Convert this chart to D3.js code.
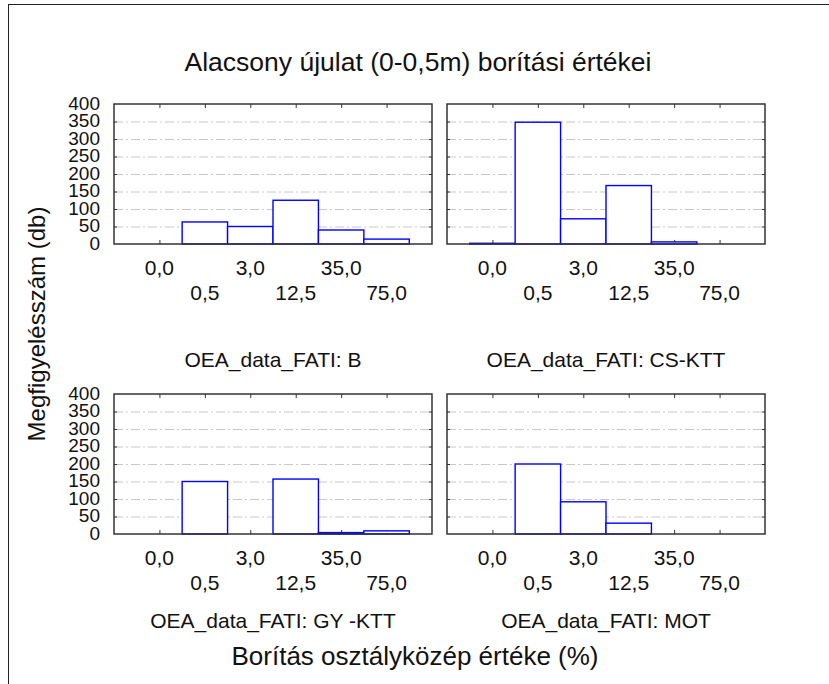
<!DOCTYPE html>
<html>
<head>
<meta charset="utf-8">
<script src="https://cdn.jsdelivr.net/npm/d3@7"></script>
<style>
	body { margin: 0; background: #fff; }
	svg { display: block; font-family: 'Liberation Sans', Arial, sans-serif; }
	.grid line { stroke: #c8c8c8; stroke-dasharray: 9,3,2,3; }
	.grid path { display: none; }
	.ylab path, .ylab line { display: none; }
	.ylab text { font-size: 19px; fill: #111; }
	.tk path { display: none; }
	.tk line { stroke: #333; }
</style>
</head>
<body>
<svg id="main-plot"></svg>
<script>
var categories = ['0,0', '0,5', '3,0', '12,5', '35,0', '75,0'];
var panelNames = ['B', 'CS-KTT', 'GY -KTT', 'MOT'];
var countsB = [0, 63, 50, 125, 40, 14];
var countsCS = [2, 348, 72, 167, 6, 0];
var countsGY = [0, 150, 0, 157, 4, 9];
var countsMOT = [0, 200, 92, 31, 0, 0];
var yTicks = [0, 50, 100, 150, 200, 250, 300, 350, 400];
var gridTicks = [50, 100, 150, 200, 250, 300, 350];

window.onload = function init() {
	'use strict';

	var width = 829,
		height = 684,
		pw = 318,
		ph = 140,
		lefts = [114, 447],
		tops = [104, 394],
		titleY = [367, 628],
		svg = d3.select('svg#main-plot').attr('width', width).attr('height', height),
		series = [countsB, countsCS, countsGY, countsMOT];

	// outer frame (partly outside the picture)
	svg.append('rect')
		.attr('x', 8.5).attr('y', 4.5)
		.attr('width', 900).attr('height', 900)
		.attr('fill', 'none').attr('stroke', '#222').attr('stroke-width', 1);

	var x = d3.scaleLinear().domain([-1, 6]).range([0, pw]),
		y = d3.scaleLinear().domain([0, 400]).range([ph, 0]);

	series.forEach(function(values, k) {
		var col = k % 2, row = Math.floor(k / 2),
			g = svg.append('g').attr('transform', 'translate(' + lefts[col] + ',' + tops[row] + ')');

		g.append('g').attr('class', 'grid')
			.call(d3.axisLeft(y).tickValues(gridTicks).tickSize(-pw).tickFormat(''));

		// small inner ticks
		g.append('g').attr('class', 'tk')
			.call(d3.axisLeft(y).tickValues(gridTicks).tickSize(-3).tickFormat(''));
		g.append('g').attr('class', 'tk').attr('transform', 'translate(' + pw + ',0)')
			.call(d3.axisRight(y).tickValues(gridTicks).tickSize(-3).tickFormat(''));
		g.append('g').attr('class', 'tk')
			.call(d3.axisTop(x).tickValues(d3.range(0, 6)).tickSize(-4).tickFormat(''));
		g.append('g').attr('class', 'tk').attr('transform', 'translate(0,' + ph + ')')
			.call(d3.axisBottom(x).tickValues(d3.range(0, 6)).tickSize(-4).tickFormat(''));

		g.selectAll('rect.bar')
			.data(values.map(function(v, i) { return {i: i, v: v}; }).filter(function(d) { return d.v > 0; }))
			.enter().append('rect')
			.attr('class', 'bar')
			.attr('x', function(d) { return x(d.i - 0.5); })
			.attr('y', function(d) { return y(d.v); })
			.attr('width', function(d) { return x(d.i + 0.5) - x(d.i - 0.5); })
			.attr('height', function(d) { return ph - y(d.v); })
			.attr('fill', '#fff')
			.attr('stroke', '#0000ff')
			.attr('stroke-width', 1.4);

		g.append('rect')
			.attr('width', pw).attr('height', ph)
			.attr('fill', 'none').attr('stroke', '#333').attr('stroke-width', 1.5);

		if (col === 0) {
			g.append('g').attr('class', 'ylab')
				.call(d3.axisLeft(y).tickValues(yTicks).tickSize(0).tickPadding(14))
				.selectAll('text').attr('dy', '0.28em');
		}

		g.selectAll('text.xl')
			.data(categories)
			.enter().append('text')
			.attr('class', 'xl')
			.attr('x', function(d, i) { return x(i); })
			.attr('y', function(d, i) { return ph + (i % 2 ? 56 : 31); })
			.attr('text-anchor', 'middle')
			.attr('font-size', 21)
			.attr('fill', '#111')
			.text(function(d) { return d; });

		svg.append('text')
			.attr('x', lefts[col] + pw / 2)
			.attr('y', titleY[row])
			.attr('text-anchor', 'middle')
			.attr('font-size', 21)
			.attr('fill', '#111')
			.text('OEA_data_FATI: ' + panelNames[k]);
	});

	svg.append('text')
		.attr('x', 418).attr('y', 71)
		.attr('text-anchor', 'middle')
		.attr('font-size', 26.5)
		.attr('fill', '#111')
		.text('Alacsony újulat (0-0,5m) borítási értékei');

	svg.append('text')
		.attr('x', 415).attr('y', 665)
		.attr('text-anchor', 'middle')
		.attr('font-size', 26)
		.attr('fill', '#111')
		.text('Borítás osztályközép értéke (%)');

	svg.append('text')
		.attr('transform', 'translate(45,324) rotate(-90)')
		.attr('text-anchor', 'middle')
		.attr('font-size', 24)
		.attr('fill', '#111')
		.text('Megfigyelésszám (db)');
};
</script>
</body>
</html>
